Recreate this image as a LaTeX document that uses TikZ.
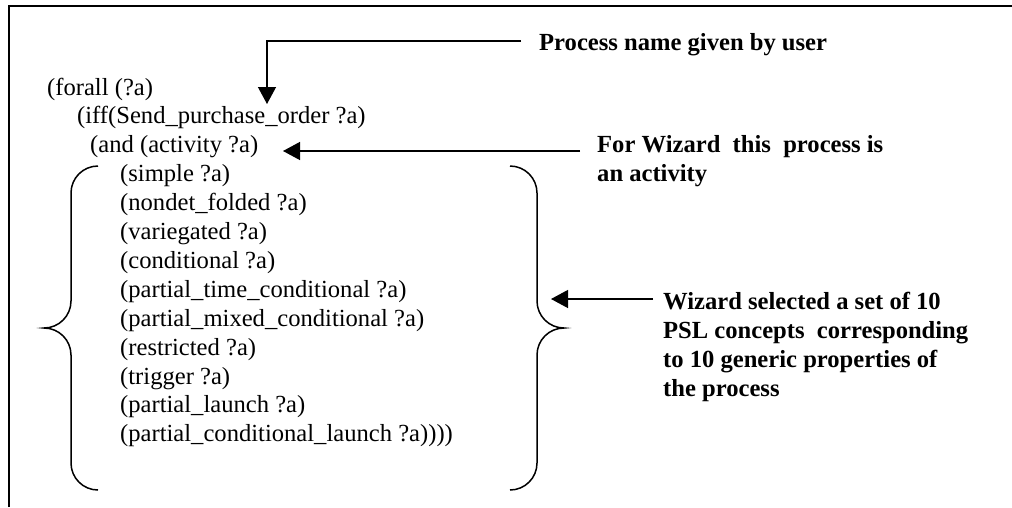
\documentclass[tikz,border=0pt]{standalone}
\usepackage{fontspec}
\setmainfont{Liberation Serif}
\usetikzlibrary{arrows.meta}
\def\drawBrace{
\draw (27,162) arc (90:180:27) -- (0,27) arc (0:-90:27) arc (90:0:27) -- (0,-135) arc (180:270:27);
}
\newcommand{\pslsize}{\fontsize{24.6}{28.9}\selectfont}

\begin{document}
\begin{tikzpicture}[x=1pt, y=1pt,
  code/.style={font=\pslsize, anchor=base west, inner sep=0pt},
  note/.style={font=\pslsize\bfseries, anchor=base west, inner sep=0pt, align=left},
  arr/.style={line width=1.3pt, -{Triangle[length=17pt,width=18pt]}}]
\useasboundingbox (0,0) rectangle (1012,-507);
\draw[line width=1.6pt] (9,-507) -- (9,-6) -- (1012,-6);
\node[code] (forall) at (47,-95) {(forall (?a)};
\node[code] (iff) at (77,-123.9) {(iff(Send\_purchase\_order ?a)};
\node[code] (act) at (90,-152.8) {(and (activity ?a)};
\foreach \txt [count=\i] in {{(simple ?a)},{(nondet\_folded ?a)},{(variegated ?a)},
  {(conditional ?a)},{(partial\_time\_conditional ?a)},{(partial\_mixed\_conditional ?a)},
  {(restricted ?a)},{(trigger ?a)},{(partial\_launch ?a)},{(partial\_conditional\_launch ?a))))}}
  \node[code] (prop\i) at (120,{-181.7-28.9*(\i-1)}) {\txt};
\node[note] (pname) at (539,-50) {Process name given by user};
\node[note] (wact) at (597,-181) {For Wizard~ this~ process is\\an activity};
\node[note] (wsel) at (663,-396) {Wizard selected a set of 10\\PSL concepts~ corresponding\\to 10 generic properties of\\the process};
\begin{scope}[shift={(71,-328)}, line width=1.5pt]
\drawBrace
\end{scope}
\begin{scope}[shift={(537,-328)}, xscale=-1, line width=1.5pt]
\drawBrace
\end{scope}
\coordinate (n1) at (521,-41);
\coordinate (n2) at (267,-104);
\coordinate (w1) at (580,-151);
\coordinate (w2) at (283,-151);
\coordinate (s1) at (653,-299);
\coordinate (s2) at (551,-299);
\draw[arr] (n1) -| (n2);
\draw[arr] (w1) -- (w2);
\draw[arr] (s1) -- (s2);
\end{tikzpicture}
\end{document}
